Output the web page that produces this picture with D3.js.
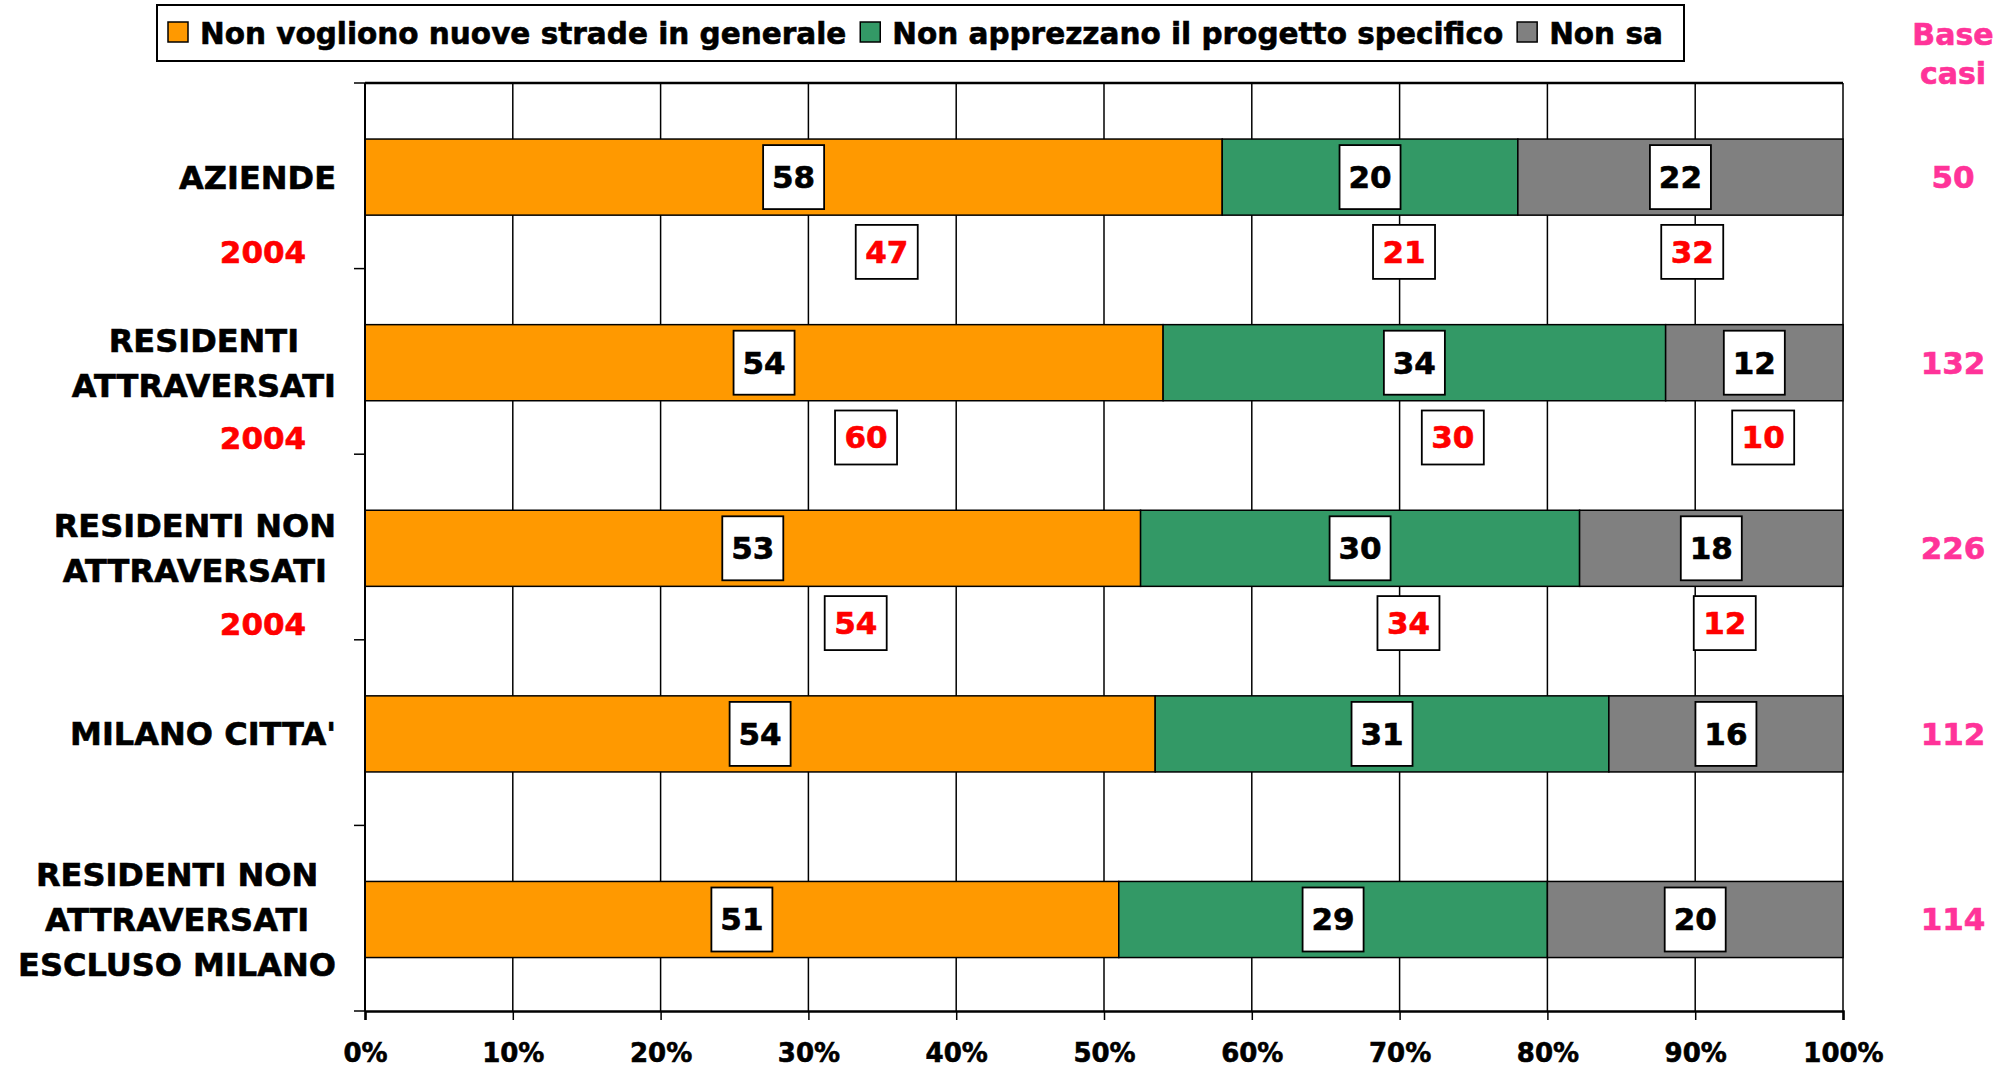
<!DOCTYPE html>
<html>
<head>
<meta charset="utf-8">
<script src="https://cdn.jsdelivr.net/npm/d3@7"></script>
<style>
  body { margin: 0; background: #fff; }
  svg text { font-family: "DejaVu Sans", Verdana, sans-serif; font-weight: bold; stroke-width: 0.6px; }
</style>
</head>
<body>
<div id="chart"></div>
<script>
// data
var categories = [
  ["AZIENDE"],
  ["RESIDENTI", "ATTRAVERSATI"],
  ["RESIDENTI NON", "ATTRAVERSATI"],
  ["MILANO CITTA'"],
  ["RESIDENTI NON", "ATTRAVERSATI", "ESCLUSO MILANO"]
]
var seriesNames = ["Non vogliono nuove strade in generale", "Non apprezzano il progetto specifico", "Non sa"]
var generale   = [58, 54, 53, 54, 51]
var specifico  = [20, 34, 30, 31, 29]
var nonSa      = [22, 12, 18, 16, 20]
var generale2004  = [47, 60, 54, null, null]
var specifico2004 = [21, 30, 34, null, null]
var nonSa2004     = [32, 10, 12, null, null]
var baseCasi = [50, 132, 226, 112, 114]
var xTicks = [0, 10, 20, 30, 40, 50, 60, 70, 80, 90, 100]

// where the 2004 boxes sit along the axis (in %), placed by hand in the original
var pos2004 = [[35.3, 70.3, 89.8], [33.9, 73.6, 94.6], [33.2, 70.6, 92.0]]

var width = 1999, height = 1067
var colors = ["#FF9900", "#339966", "#808080"]

var svg = d3.select("#chart").append("svg")
  .attr("width", width)
  .attr("height", height)

var x = d3.scaleLinear().domain([0, 1]).range([365, 1843])
var y = d3.scaleBand().domain(d3.range(categories.length)).range([83, 1011])
var bw = y.bandwidth()
var barH = bw * 0.41
var barMid = function(i) { return y(i) + bw * 0.507 }
var mid2004 = function(i) { return y(i) + bw * 0.91 }

// gridlines
svg.append("g")
  .selectAll("line")
  .data(xTicks.slice(1))
  .enter().append("line")
    .attr("x1", function(d) { return x(d / 100) })
    .attr("x2", function(d) { return x(d / 100) })
    .attr("y1", y.range()[0])
    .attr("y2", y.range()[1])
    .attr("stroke", "#000")
    .attr("stroke-width", 1.5)
svg.append("line")
  .attr("x1", x(0)).attr("x2", x(1))
  .attr("y1", y.range()[0]).attr("y2", y.range()[0])
  .attr("stroke", "#000").attr("stroke-width", 2.5)

// stacked 100% bars
var rows = categories.map(function(c, i) { return { i: i, a: generale[i], b: specifico[i], c: nonSa[i] } })
var stack = d3.stack().keys(["a", "b", "c"]).offset(d3.stackOffsetExpand)
var layers = stack(rows)

layers.forEach(function(layer, k) {
  svg.append("g")
    .selectAll("rect")
    .data(layer)
    .enter().append("rect")
      .attr("x", function(d) { return x(d[0]) })
      .attr("width", function(d) { return x(d[1]) - x(d[0]) })
      .attr("y", function(d, i) { return barMid(i) - barH / 2 })
      .attr("height", barH)
      .attr("fill", colors[k])
      .attr("stroke", "#000")
      .attr("stroke-width", 1.5)
})

// axes
var xAxis = svg.append("g")
  .attr("transform", "translate(0," + y.range()[1] + ")")
  .call(d3.axisBottom(x).tickValues(xTicks.map(function(d) { return d / 100 }))
    .tickFormat(function(d) { return Math.round(d * 100) + "%" })
    .tickSize(9).tickPadding(24))
xAxis.select(".domain").attr("stroke-width", 2.5)
xAxis.selectAll(".tick line").attr("stroke-width", 1.5)
xAxis.selectAll("text").attr("font-size", 26).attr("fill", "#000").attr("stroke", "#000")

var yTicks = d3.range(categories.length + 1).map(function(i) { return 83 + i * bw })
var yAxis = svg.append("g")
yAxis.append("line")
  .attr("x1", x(0)).attr("x2", x(0))
  .attr("y1", y.range()[0]).attr("y2", y.range()[1])
  .attr("stroke", "#000").attr("stroke-width", 2)
yAxis.selectAll(".yt")
  .data(yTicks)
  .enter().append("line")
    .attr("class", "yt")
    .attr("x1", x(0) - 11).attr("x2", x(0))
    .attr("y1", function(d) { return d }).attr("y2", function(d) { return d })
    .attr("stroke", "#000").attr("stroke-width", 1.5)

// category labels: block right aligned, lines centred in the block
categories.forEach(function(lines, i) {
  var g = svg.append("g")
  var lh = 45
  var t = g.selectAll("text")
    .data(lines)
    .enter().append("text")
      .attr("font-size", 32)
      .attr("text-anchor", "middle")
      .attr("stroke", "#000")
      .attr("y", function(d, j) { return barMid(i) + (j - (lines.length - 1) / 2) * lh + 11.5 })
      .text(function(d) { return d })
  var maxW = d3.max(t.nodes(), function(n) { return n.getComputedTextLength() })
  t.attr("x", 336 - maxW / 2)
})

// value boxes on the bars
function valueBox(cx, cy, w, h, val, col) {
  svg.append("rect")
    .attr("x", cx - w / 2).attr("y", cy - h / 2)
    .attr("width", w).attr("height", h)
    .attr("fill", "#fff").attr("stroke", "#000").attr("stroke-width", 1.8)
  svg.append("text")
    .attr("x", cx).attr("y", cy + 11)
    .attr("text-anchor", "middle")
    .attr("font-size", 31)
    .attr("fill", col)
    .attr("stroke", col)
    .text(val)
}

layers.forEach(function(layer, k) {
  layer.forEach(function(d, i) {
    var v = [generale, specifico, nonSa][k][i]
    valueBox((x(d[0]) + x(d[1])) / 2, barMid(i), 61, 64, v, "#000")
  })
})

// 2004 values
var old = [generale2004, specifico2004, nonSa2004]
categories.forEach(function(c, i) {
  if (generale2004[i] == null) return
  svg.append("text")
    .attr("x", 263).attr("y", mid2004(i) + 11.5)
    .attr("text-anchor", "middle")
    .attr("font-size", 31)
    .attr("fill", "#FF0000")
    .attr("stroke", "#FF0000")
    .text("2004")
  old.forEach(function(s, k) {
    valueBox(x(pos2004[i][k] / 100), mid2004(i), 62, 54, s[i], "#FF0000")
  })
})

// base casi
var pink = "#FF3399"
svg.append("text").attr("x", 1953).attr("y", 45).attr("text-anchor", "middle")
  .attr("font-size", 30).attr("fill", pink).attr("stroke", pink).text("Base")
svg.append("text").attr("x", 1953).attr("y", 84).attr("text-anchor", "middle")
  .attr("font-size", 30).attr("fill", pink).attr("stroke", pink).text("casi")
svg.append("g")
  .selectAll("text")
  .data(baseCasi)
  .enter().append("text")
    .attr("x", 1953)
    .attr("y", function(d, i) { return barMid(i) + 11 })
    .attr("text-anchor", "middle")
    .attr("font-size", 31)
    .attr("fill", pink)
    .attr("stroke", pink)
    .text(function(d) { return d })

// legend
var legend = svg.append("g")
legend.append("rect")
  .attr("x", 157).attr("y", 5).attr("width", 1527).attr("height", 56)
  .attr("fill", "#fff").attr("stroke", "#000").attr("stroke-width", 2)
var lx = 168
seriesNames.forEach(function(name, k) {
  legend.append("rect")
    .attr("x", lx).attr("y", 22).attr("width", 20).attr("height", 20)
    .attr("fill", colors[k]).attr("stroke", "#000").attr("stroke-width", 1.5)
  var t = legend.append("text")
    .attr("x", lx + 32).attr("y", 44)
    .attr("font-size", 29.5)
    .attr("stroke", "#000")
    .text(name)
  lx += 32 + t.node().getComputedTextLength() + 14
})
</script>
</body>
</html>
